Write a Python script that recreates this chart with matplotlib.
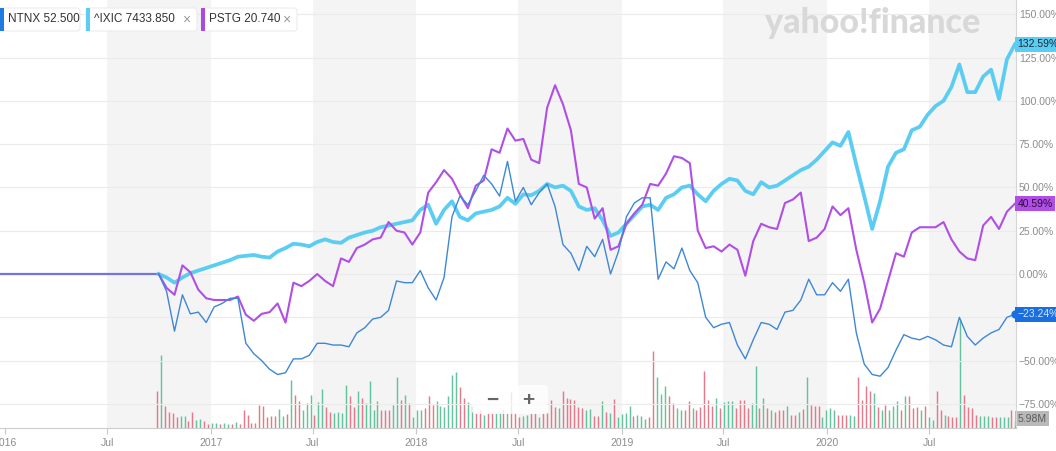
import matplotlib
matplotlib.use('Agg')
import matplotlib.pyplot as plt
from matplotlib.patches import FancyBboxPatch
from matplotlib.ticker import FuncFormatter
from matplotlib.transforms import blended_transform_factory, IdentityTransform
import pandas as pd

# % change since the NTNX IPO week, read roughly every two weeks
line_start = '2016-09-30'
line_end = '2020-11-30'

ntnx = [0, -10, -33, -12, -23, -22, -28, -19, -17, -14,
        -14, -40, -46, -50, -55, -58, -57, -49, -49, -47,
        -40, -40, -41, -41, -42, -34, -31, -26, -25, -21,
        -4, -5, -5, 2, -8, -15, -2, 33, 45, 40,
        48, 57, 52, 45, 65, 42, 50, 40, 47, 52,
        39, 17, 12, 2, 16, 10, 20, 0, 13, 33,
        41, 44, 44, -3, 7, 3, 15, 2, -5, -25,
        -31, -29, -28, -41, -49, -38, -28, -29, -32, -22,
        -21, -15, -3, -12, -12, -5, -10, -3, -34, -52,
        -58, -59, -54, -44, -35, -37, -38, -36, -38, -41,
        -42, -25, -36, -41, -37, -34, -32, -25, -23.24]

ixic = [0, -2, -5, -2, 0.5, 2, 3.5, 5, 6.5, 8,
        10, 10.5, 11, 10, 9.5, 13, 15, 17.5, 17, 16,
        18.5, 20, 18.5, 18, 21, 22.5, 24, 25, 27, 28,
        29, 30, 31, 37, 40, 29, 37, 42, 33, 31,
        35, 36, 37, 39, 44, 40.5, 46, 45.5, 48, 52,
        50, 51, 48, 39, 37, 38, 31, 22, 24, 29,
        34, 39, 40, 37, 44, 46, 50, 51, 46, 42,
        48, 52, 55, 54, 48, 46, 53, 50, 51, 54,
        57, 60, 62, 66, 71, 76, 74, 82, 63, 45,
        26, 42, 62, 70, 72, 83, 85, 92, 97, 100,
        108, 121, 105, 105, 114, 118, 101, 124, 132.59]

pstg = [0, -8, -12, 5, 1, -9, -14, -15, -15, -15,
        -13, -23.5, -27, -23, -22, -17, -28, -5, -7, -4,
        0, -4, -7, 9, 7, 15, 17, 20, 21, 30,
        25, 24, 17, 24, 47, 53, 60, 55, 46, 38,
        51, 54, 72, 70, 84, 77, 78, 66, 64, 96,
        109, 98, 83, 52, 50, 32, 38, 14, 16, 29,
        35, 40, 52, 51, 58, 68, 67, 64, 25, 15,
        16, 13, 17, 14, -1, 19, 29, 27, 26, 41,
        43, 47, 19, 21, 26, 39, 34, 38, 14, -5,
        -28, -20, -4, 12, 10, 24, 27, 27, 27, 30,
        20, 13, 9, 8, 28, 33, 26, 36, 40.59]

# flat part before the IPO
pre_ipo_dates = ['2015-12-20', '2016-09-30']
pre_ipo_vals = [0, 0]

# weekly NTNX volume (millions), g = up week, r = down week
vol_start = '2016-09-27'
vol = [32, 62, 19, 14, 13, 9, 10, 10, 6, 14,
       7, 8, 6, 3, 4, 4, 3, 4, 3, 3,
       5, 3, 15, 11, 4, 4, 20, 19, 9, 10,
       10, 16, 10, 12, 41, 28, 23, 15, 21, 28,
       11, 22, 33, 18, 14, 13, 14, 13, 37, 27,
       18, 32, 26, 21, 40, 15, 23, 15, 15, 15,
       20, 44, 24, 28, 21, 9, 15, 15, 17, 27,
       20, 23, 19, 18, 27, 45, 48, 35, 26, 22,
       19, 13, 15, 11, 13, 13, 13, 14, 15, 13,
       31, 13, 9, 10, 11, 13, 13, 9, 13, 13,
       24, 18, 17, 32, 26, 25, 24, 18, 17, 15,
       16, 10, 10, 23, 14, 13, 25, 9, 12, 13,
       19, 10, 11, 10, 8, 9, 66, 44, 29, 36,
       27, 21, 17, 15, 15, 23, 17, 15, 18, 49,
       24, 19, 26, 17, 22, 23, 23, 17, 24, 24,
       17, 21, 53, 17, 26, 17, 15, 14, 15, 15,
       19, 11, 11, 14, 16, 44, 20, 19, 19, 9,
       15, 17, 15, 11, 11, 11, 11, 10, 44, 24,
       36, 32, 30, 18, 15, 20, 15, 19, 23, 15,
       27, 27, 17, 18, 15, 19, 9, 7, 32, 15,
       11, 10, 9, 9, 92, 28, 18, 17, 11, 10,
       10, 10, 9, 9, 9, 9, 9, 15, 5.98]
vol_dir = ("rgrrrrggrr" "ggrrggrggr" "grrrrrrrrr" "rggrgrrggg" "rggrrggggr"
           "rgrggggrrr" "ggrgrgggrr" "rggggggrrg" "grrgrrggrg" "rrrggrrgrr"
           "rrgrrrrrrg" "grrgrgrggg" "grgggrrggg" "rrggrrgrrr" "rrgrgggrrr"
           "rggrgrgrrr" "grrgrgrrrg" "gggrrrggrr" "rrgrgrgggr" "grrrgrggrr"
           "grrrgrrrrg" "ggrrgggrg")

legend = [('NTNX', '52.500'), ('^IXIC', '7433.850'), ('PSTG', '20.740')]

tick_dates = ['2016-01-01', '2016-07-01', '2017-01-01', '2017-07-01', '2018-01-01',
              '2018-07-01', '2019-01-01', '2019-07-01', '2020-01-01', '2020-07-01']
tick_labels = ['2016', 'Jul', '2017', 'Jul', '2018', 'Jul', '2019', 'Jul', '2020', 'Jul']
y_ticks = [-75, -50, -25, 0, 25, 50, 75, 100, 125, 150]

c_ntnx = '#3f87d6'
c_ixic = '#5bcdf3'
c_pstg = '#b04ee6'

plt.rcParams['font.family'] = ['Liberation Sans', 'DejaVu Sans']

dates = pd.date_range(line_start, line_end, periods=len(ntnx))
vol_dates = pd.date_range(vol_start, periods=len(vol), freq='7D')

W, H = 1056, 451
fig = plt.figure(figsize=(W / 100, H / 100), dpi=100)
fig.patch.set_facecolor('white')

rect = [0, 23 / H, 1016 / W, 428 / H]
ax2 = fig.add_axes(rect)      # background bands + volume
ax = fig.add_axes(rect)       # price lines
ax.set_zorder(ax2.get_zorder() + 1)
ax.patch.set_visible(False)

x0, x1 = pd.Timestamp('2015-12-23'), pd.Timestamp('2020-12-02')

# shaded half years
for y in range(2016, 2021):
    s = pd.Timestamp(f'{y}-07-01')
    e = min(pd.Timestamp(f'{y + 1}-01-01'), x1)
    ax2.axvspan(s, e, color='#f4f4f4', lw=0, zorder=0)

cols = ['#62c39e' if d == 'g' else '#e3798a' for d in vol_dir]
ax2.vlines(vol_dates, 0, vol, colors=cols, lw=1.05, zorder=2)
ax2.set_xlim(x0, x1)
ax2.set_ylim(0, 366)
ax2.axis('off')

# price lines
ax.plot(pd.to_datetime(pre_ipo_dates), pre_ipo_vals, color='#7472e4', lw=1.6)
ax.plot(dates, ixic, color=c_ixic, lw=2.7, solid_joinstyle='round')
ax.plot(dates, pstg, color=c_pstg, lw=1.5)
ax.plot(dates, ntnx, color=c_ntnx, lw=1.0)
ax.plot(dates[-1], ntnx[-1], 'o', ms=5, color='#1a6fe0', clip_on=False, zorder=6)

ax.set_xlim(x0, x1)
ax.set_ylim(-88.9, 158.2)
ax.set_yticks(y_ticks)
ax.yaxis.tick_right()
# the -25 label sits under the NTNX tag in the original, so it is left blank
ax.yaxis.set_major_formatter(FuncFormatter(
    lambda v, p: '' if v == -25 else f'{v:.2f}%'.replace('-', '\u2212')))
ax.tick_params(axis='y', length=0, pad=2, labelsize=7.5, labelcolor='#8c8c8c')
ax.set_xticks(pd.to_datetime(tick_dates))
ax.set_xticklabels(tick_labels)
ax.tick_params(axis='x', length=4, color='#c8c8c8', pad=3, labelsize=7.5, labelcolor='#8c8c8c')
ax.grid(axis='y', color='#ebebeb', lw=0.8)
for side in ['top', 'left']:
    ax.spines[side].set_visible(False)
ax.spines['right'].set_color('#d5d5d5')
ax.spines['right'].set_linewidth(0.8)
ax.spines['bottom'].set_color('#cccccc')
ax.spines['bottom'].set_linewidth(0.8)

# last value tags on the right
tr = blended_transform_factory(ax.transAxes, ax.transData)
tags = [(ixic[-1], c_ixic, '#1d2a36'), (pstg[-1], c_pstg, '#2b0c3d'), (ntnx[-1], '#1a6fe0', '#d2e6ff')]
for val, fc, tc in tags:
    ax.text(1.0015, val, f'{val:.2f}%'.replace('-', '\u2212'), transform=tr, ha='left', va='center',
            fontsize=7.5, color=tc, clip_on=False, zorder=7,
            bbox=dict(boxstyle='square,pad=0.22', fc=fc, ec='none'))
tr2 = blended_transform_factory(ax2.transAxes, ax2.transData)
ax2.text(1.0015, vol[-1] + 2, f'{vol[-1]:.2f}M', transform=tr2, ha='left', va='center',
         fontsize=7.5, color='#5a5a5a', clip_on=False, zorder=7,
         bbox=dict(boxstyle='square,pad=0.22', fc='#b9b9b9', ec='none'))

# zoom control overlay
ident = IdentityTransform()
zbox = FancyBboxPatch((472, H - 414), 76, 29, boxstyle='round,pad=0,rounding_size=3',
                      fc='white', ec='none', alpha=0.8, transform=ident, zorder=5)
fig.add_artist(zbox)
fig.text(492 / W, 1 - 400 / H, '\u2212', fontsize=15, fontweight='bold', color='#666666',
         ha='center', va='center', zorder=6)
fig.text(528 / W, 1 - 400 / H, '+', fontsize=15, fontweight='bold', color='#666666',
         ha='center', va='center', zorder=6)

# legend chips
chips = [(0, 80, '#1e7be0', False), (86, 197, c_ixic, True), (201, 297, '#a94ae0', True)]
for (sym, price), (cx0, cx1, bar_c, closable) in zip(legend, chips):
    box = FancyBboxPatch((cx0, H - 31), cx1 - cx0, 23, boxstyle='round,pad=0,rounding_size=3',
                         fc='white', ec='#ececec', lw=0.8, transform=ident, zorder=8)
    fig.add_artist(box)
    bar = FancyBboxPatch((cx0, H - 31), 3.5, 23, boxstyle='square,pad=0',
                         fc=bar_c, ec='none', transform=ident, zorder=9)
    fig.add_artist(bar)
    fig.text((cx0 + 8) / W, 1 - 19.5 / H, f'{sym} {price}', fontsize=8.5, color='#333333',
             ha='left', va='center', zorder=10)
    if closable:
        fig.text((cx1 - 11) / W, 1 - 19.5 / H, '\u00d7', fontsize=10, color='#9a9a9a',
                 ha='center', va='center', zorder=10)

# watermark
fig.text(765 / W, 1 - 23 / H, 'yahoo!finance', fontsize=24.5, fontweight='black',
         family=['Lato', 'DejaVu Sans'], color='#d8d8d8', ha='left', va='center', zorder=3)

fig.savefig('out.png', dpi=100, facecolor='white')
